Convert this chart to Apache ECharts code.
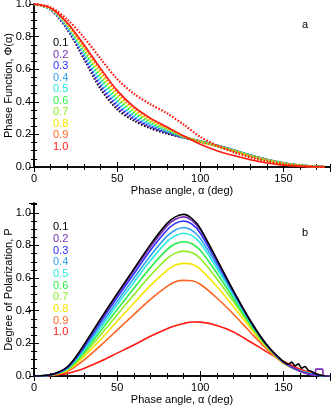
<!DOCTYPE html>
<html>
<head>
<meta charset="utf-8">
<script src="https://cdn.jsdelivr.net/npm/echarts@6/dist/echarts.min.js"></script>
<style>html,body{margin:0;padding:0;background:#fff;}#c{width:332px;height:406px;}</style>
</head>
<body>
<div id="c"></div>
<script>
// ---- data ----
const alpha = [0,10,20,30,40,50,60,70,80,90,100,110,120,130,140,150,160,170,175];
const alphaP = [0,5,10,15,20,25,30,40,50,60,70,80,85,90,95,100,110,120,130,140,150,160,170,175];
const aLabels = ['0.1','0.2','0.3','0.4','0.5','0.6','0.7','0.8','0.9','1.0'];
const colors = ['#000000','#7a2db4','#2b2bff','#2f9ff5','#26eadb','#28ee48','#8cee22','#f5e400','#ff6522','#ff1a12'];

// Panel a: phase function (dotted curves)
const phi01 = [1.000,0.965,0.845,0.665,0.480,0.355,0.285,0.238,0.205,0.180,0.158,0.132,0.103,0.072,0.045,0.024,0.010,0.003,0];
const phi02 = [1.000,0.966,0.849,0.674,0.493,0.367,0.294,0.244,0.209,0.181,0.158,0.132,0.103,0.072,0.045,0.024,0.010,0.003,0];
const phi03 = [1.000,0.967,0.853,0.682,0.505,0.378,0.302,0.250,0.213,0.182,0.158,0.131,0.103,0.072,0.045,0.024,0.010,0.003,0];
const phi04 = [1.000,0.968,0.858,0.692,0.520,0.392,0.312,0.258,0.218,0.183,0.157,0.131,0.102,0.071,0.044,0.023,0.010,0.003,0];
const phi05 = [1.000,0.969,0.863,0.702,0.535,0.406,0.322,0.265,0.223,0.184,0.157,0.130,0.102,0.071,0.044,0.023,0.009,0.003,0];
const phi06 = [1.000,0.971,0.867,0.713,0.550,0.419,0.333,0.273,0.227,0.186,0.156,0.130,0.101,0.070,0.043,0.023,0.009,0.003,0];
const phi07 = [1.000,0.972,0.872,0.723,0.565,0.433,0.343,0.280,0.232,0.187,0.156,0.129,0.100,0.069,0.043,0.022,0.009,0.002,0];
const phi08 = [1.000,0.973,0.877,0.733,0.580,0.447,0.353,0.288,0.237,0.188,0.155,0.128,0.099,0.068,0.042,0.022,0.009,0.002,0];
const phi09 = [1.000,0.974,0.881,0.742,0.593,0.459,0.362,0.294,0.241,0.189,0.154,0.127,0.098,0.067,0.041,0.021,0.009,0.002,0];
const phi10 = [1.000,0.980,0.905,0.795,0.665,0.540,0.450,0.385,0.330,0.260,0.185,0.132,0.091,0.058,0.033,0.015,0.005,0.001,0];
const phi10Solid = [1.000,0.975,0.885,0.750,0.605,0.470,0.370,0.300,0.245,0.190,0.140,0.100,0.070,0.045,0.025,0.011,0.004,0.001,0];

// Panel b: degree of polarization (at alphaP)
const pol01 = [0,0.002,0.008,0.025,0.055,0.115,0.190,0.350,0.505,0.655,0.805,0.935,0.975,0.990,0.965,0.905,0.715,0.520,0.340,0.190,0.085,0.030,0.008,0];
const pol02 = [0,0.002,0.008,0.024,0.054,0.112,0.185,0.343,0.495,0.645,0.790,0.920,0.960,0.975,0.952,0.895,0.710,0.520,0.340,0.190,0.085,0.030,0.006,0];
const pol03 = [0,0.002,0.007,0.023,0.052,0.108,0.178,0.330,0.480,0.625,0.770,0.895,0.935,0.950,0.930,0.875,0.700,0.515,0.338,0.190,0.085,0.030,0.006,0];
const pol04 = [0,0.002,0.007,0.022,0.049,0.102,0.168,0.312,0.457,0.598,0.737,0.857,0.895,0.910,0.892,0.843,0.680,0.505,0.335,0.190,0.085,0.030,0.006,0];
const pol05 = [0,0.002,0.007,0.021,0.046,0.096,0.158,0.295,0.436,0.573,0.707,0.823,0.860,0.875,0.860,0.815,0.660,0.495,0.330,0.190,0.085,0.030,0.006,0];
const pol06 = [0,0.002,0.006,0.019,0.042,0.089,0.146,0.275,0.407,0.537,0.664,0.774,0.810,0.823,0.810,0.770,0.630,0.475,0.320,0.185,0.083,0.030,0.006,0];
const pol07 = [0,0.001,0.006,0.018,0.039,0.081,0.133,0.251,0.375,0.497,0.616,0.719,0.753,0.765,0.755,0.720,0.595,0.455,0.310,0.180,0.082,0.030,0.006,0];
const pol08 = [0,0.001,0.005,0.016,0.034,0.072,0.118,0.223,0.335,0.446,0.554,0.647,0.680,0.690,0.685,0.655,0.548,0.425,0.295,0.175,0.080,0.030,0.006,0];
const pol09 = [0,0.001,0.004,0.013,0.028,0.059,0.097,0.186,0.281,0.376,0.469,0.549,0.578,0.586,0.584,0.562,0.478,0.378,0.270,0.165,0.078,0.028,0.006,0];
const pol10 = [0,0.001,0.003,0.008,0.016,0.030,0.046,0.090,0.140,0.190,0.243,0.290,0.308,0.322,0.331,0.330,0.310,0.270,0.210,0.148,0.090,0.042,0.012,0];
// noisy tails near backscattering
const tailAlpha01 = [150,153,155,157,159,161,163,165,167,170,175];
const tail01 = [0.088,0.072,0.085,0.062,0.074,0.048,0.058,0.034,0.028,0.010,0];
const tailAlpha02 = [160,165,169,169.5,173.5,174,178];
const tail02 = [0.030,0.012,0.004,0.042,0.042,0.004,0];
const tailAlpha03 = [160,165,167,168,169,170,175];
const tail03 = [0.030,0.012,0.006,0.018,0.016,0.004,0];

const phiSets = [phi01,phi02,phi03,phi04,phi05,phi06,phi07,phi08,phi09,phi10];
const polSets = [pol01,pol02,pol03,pol04,pol05,pol06,pol07,pol08,pol09,pol10];

// ---- chart ----
const FF = '"Liberation Sans", Arial, Helvetica, sans-serif';
const chart = echarts.init(document.getElementById('c'), null, {renderer:'canvas'});
const zip = (xs, ys) => xs.map((x,i)=>[x, ys[i]]);
function merge(xs, ys, txs, tys){
  const cut = txs[0];
  const pts = zip(xs, ys).filter(p => p[0] < cut);
  return pts.concat(zip(txs, tys));
}

const grids = [
  {left:34, top:4, width:296, height:163, containLabel:false, outerBoundsMode:'none'},
  {left:34, top:203, width:296, height:173, containLabel:false, outerBoundsMode:'none'}
];
const ymaxes = [1.0, 1.06];
const ytitles = ['Phase Function, \u03A6(\u03B1)', 'Degree of Polarization, P'];
const xAxes = [], yAxes = [];
const line = {show:true, lineStyle:{color:'#000', width:1.5}};
grids.forEach((g, gi) => {
  const base = {gridIndex:gi, type:'value', min:0, max:178, splitLine:{show:false}};
  xAxes.push(Object.assign({}, base, {position:'bottom', interval:50, axisLine:line,
    axisTick:{inside:true, length:5, lineStyle:{color:'#000', width:1}},
    axisLabel:{margin:6, color:'#000', fontSize:11, fontFamily:FF, showMaxLabel:false,
      formatter: v => (Math.abs(v % 50) < 1e-6 ? String(v) : '')},
    name:'Phase angle, \u03B1 (deg)', nameLocation:'middle', nameGap:18, nameMoveOverlap:false,
    nameTextStyle:{color:'#000', fontSize:11, fontFamily:FF}}));
  xAxes.push(Object.assign({}, base, {position:'bottom', interval:10, axisLine:{show:false},
    axisTick:{inside:true, length:3, lineStyle:{color:'#000', width:1}}, axisLabel:{show:false}}));
  xAxes.push(Object.assign({}, base, {position:'top', interval:50, axisLine:line,
    axisTick:{inside:true, length:5, lineStyle:{color:'#000', width:1}}, axisLabel:{show:false}}));
  xAxes.push(Object.assign({}, base, {position:'top', interval:10, axisLine:{show:false},
    axisTick:{inside:true, length:3, lineStyle:{color:'#000', width:1}}, axisLabel:{show:false}}));

  const ybase = {gridIndex:gi, type:'value', min:0, max:ymaxes[gi], splitLine:{show:false}};
  yAxes.push(Object.assign({}, ybase, {position:'left', interval:0.2, axisLine:line,
    axisTick:{inside:true, length:5, lineStyle:{color:'#000', width:1}},
    axisLabel:{margin:3, color:'#000', fontSize:11, fontFamily:FF, showMaxLabel: gi===0,
      formatter: v => (Math.abs(v*5 - Math.round(v*5)) < 1e-6 && v <= 1.0001 ? v.toFixed(1) : '')},
    name: ytitles[gi], nameLocation:'middle', nameGap:20, nameRotate:90, nameMoveOverlap:false,
    nameTextStyle:{color:'#000', fontSize:11, fontFamily:FF}}));
  yAxes.push(Object.assign({}, ybase, {position:'left', interval:0.05, axisLine:{show:false},
    axisTick:{inside:true, length:3, lineStyle:{color:'#000', width:1}}, axisLabel:{show:false}}));
  yAxes.push(Object.assign({}, ybase, {position:'right', interval:0.2, axisLine:line,
    axisTick:{inside:true, length:5, lineStyle:{color:'#000', width:1}}, axisLabel:{show:false}}));
  yAxes.push(Object.assign({}, ybase, {position:'right', interval:0.05, axisLine:{show:false},
    axisTick:{inside:true, length:3, lineStyle:{color:'#000', width:1}}, axisLabel:{show:false}}));
});

const series = [];
// panel a
phiSets.forEach((arr, i) => {
  series.push({type:'line', name:'a'+aLabels[i], xAxisIndex:0, yAxisIndex:0, data: zip(alpha, arr),
    smooth:0.3, showSymbol:false, lineStyle:{color:colors[i], width:2.2, type:[1.6,1.6]}, z: 2});
});
series.push({type:'line', name:'a1.0 solid', xAxisIndex:0, yAxisIndex:0, data: zip(alpha, phi10Solid),
  smooth:0.3, showSymbol:false, lineStyle:{color:colors[9], width:1.6}, z: 3});
// panel b
polSets.forEach((arr, i) => {
  let d = zip(alphaP, arr);
  if (i === 0) d = merge(alphaP, arr, tailAlpha01, tail01);
  if (i === 1) d = merge(alphaP, arr, tailAlpha02, tail02);
  if (i === 2) d = merge(alphaP, arr, tailAlpha03, tail03);
  series.push({type:'line', name:'b'+aLabels[i], xAxisIndex:4, yAxisIndex:4, data: d,
    smooth: (i < 3 ? 0.25 : 0.3), showSymbol:false, lineStyle:{color:colors[i], width:1.6}, z: 12 - i});
});

const graphics = [];
aLabels.forEach((t, i) => {
  graphics.push({type:'text', left:53, top: 44 + i*11.5 - 6.5, silent:true,
    style:{text:t, fill:colors[i], font:'11px ' + FF}});
  graphics.push({type:'text', left:53, top: 228.3 + i*11.67 - 6.5, silent:true,
    style:{text:t, fill:colors[i], font:'11px ' + FF}});
});
graphics.push({type:'text', left:302, top:19, style:{text:'a', fill:'#000', font:'11px ' + FF}});
graphics.push({type:'text', left:302, top:227, style:{text:'b', fill:'#000', font:'11px ' + FF}});

chart.setOption({
  animation:false,
  backgroundColor:'#fff',
  grid: grids,
  xAxis: xAxes,
  yAxis: yAxes,
  series: series,
  graphic: graphics
});
</script>
</body>
</html>
